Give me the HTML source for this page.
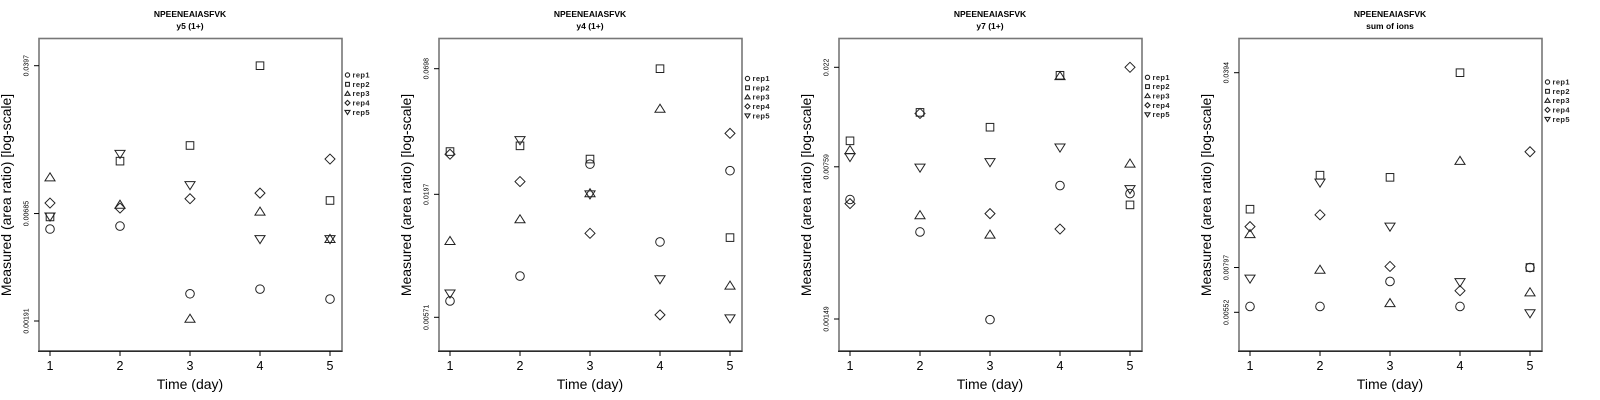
<!DOCTYPE html>
<html><head><meta charset="utf-8"><style>
html,body{margin:0;padding:0;background:#fff;}
svg{display:block;font-family:"Liberation Sans",sans-serif;}
</style></head><body>
<svg id="chart" width="1600" height="400" viewBox="0 0 1600 400" xmlns="http://www.w3.org/2000/svg"></svg>
<script>
const days = [1,2,3,4,5];
const reps = ["rep1","rep2","rep3","rep4","rep5"];
const panelTitles = ["y5 (1+)","y4 (1+)","y7 (1+)","sum of ions"];
const peptide = "NPEENEAIASFVK";
const yTicks1 = [0.0397,0.00685,0.00191];
const yTicks2 = [0.0698,0.0197,0.00571];
const yTicks3 = [0.022,0.00759,0.00149];
const yTicks4 = [0.0394,0.00797,0.00552];
// values[rep][day]
const p1rep1=[0.00570,0.00590,0.00264,0.00279,0.00248];
const p1rep2=[0.00658,0.01277,0.01538,0.0397,0.00800];
const p1rep3=[0.01052,0.00760,0.00196,0.00700,0.00506];
const p1rep4=[0.00776,0.00731,0.00817,0.00873,0.01309];
const p1rep5=[0.00662,0.01393,0.00961,0.00506,0.00506];
const p2rep1=[0.00673,0.00865,0.0267,0.0122,0.0250];
const p2rep2=[0.0303,0.0321,0.0281,0.0698,0.01274];
const p2rep3=[0.01230,0.01531,0.0199,0.0466,0.00785];
const p2rep4=[0.0295,0.0224,0.0133,0.00585,0.0364];
const p2rep5=[0.00726,0.0340,0.0197,0.00838,0.00565];
const p3rep1=[0.00535,0.00378,0.00148,0.00621,0.00570];
const p3rep2=[0.01002,0.01358,0.01159,0.0202,0.00505];
const p3rep3=[0.00906,0.00452,0.00367,0.0200,0.00785];
const p3rep4=[0.00512,0.01343,0.00460,0.00390,0.022];
const p3rep5=[0.00843,0.00753,0.00798,0.00933,0.00598];
const p4rep1=[0.00579,0.00579,0.00711,0.00579,0.00797];
const p4rep2=[0.01286,0.0170,0.0167,0.0394,0.00797];
const p4rep3=[0.01048,0.00782,0.00595,0.0191,0.00650];
const p4rep4=[0.01115,0.01228,0.00804,0.00659,0.0206];
const p4rep5=[0.00728,0.0160,0.01115,0.00707,0.00548];

const panels=[
 {ticks:yTicks1,tickPx:[65.7,321],series:[p1rep1,p1rep2,p1rep3,p1rep4,p1rep5],legTop:75},
 {ticks:yTicks2,tickPx:[68.7,317.3],series:[p2rep1,p2rep2,p2rep3,p2rep4,p2rep5],legTop:78.5},
 {ticks:yTicks3,tickPx:[67.3,319],series:[p3rep1,p3rep2,p3rep3,p3rep4,p3rep5],legTop:77.3},
 {ticks:yTicks4,tickPx:[72.7,312.3],series:[p4rep1,p4rep2,p4rep3,p4rep4,p4rep5],legTop:82}
];
const NS="http://www.w3.org/2000/svg";
const svg=document.getElementById('chart');
function mk(tag,attrs,parent){const e=document.createElementNS(NS,tag);for(const k in attrs)e.setAttribute(k,attrs[k]);parent.appendChild(e);return e;}
function xScale(d){return 50+(d-1)*70;}
function marker(g,type,x,y,s,sw){
 const st={fill:'none',stroke:'#222','stroke-width':sw||1};
 let e;
 if(type===0){e=mk('circle',Object.assign({cx:x,cy:y,r:4.3*s},st),g);}
 else if(type===1){e=mk('rect',Object.assign({x:x-3.8*s,y:y-3.8*s,width:7.6*s,height:7.6*s},st),g);}
 else if(type===2){const h=4.6*s;e=mk('polygon',Object.assign({points:`${x},${y-h} ${x-h*1.1},${y+h*0.75} ${x+h*1.1},${y+h*0.75}`},st),g);}
 else if(type===3){const h=5*s;e=mk('polygon',Object.assign({points:`${x},${y-h} ${x+h},${y} ${x},${y+h} ${x-h},${y}`},st),g);}
 else {const h=4.6*s;e=mk('polygon',Object.assign({points:`${x},${y+h} ${x-h*1.1},${y-h*0.75} ${x+h*1.1},${y-h*0.75}`},st),g);}
 return e;
}
panels.forEach((p,i)=>{
 const g=mk('g',{transform:`translate(${i*400},0)`},svg);
 
 
 const lA=Math.log10(p.ticks[0]),lB=Math.log10(p.ticks[p.ticks.length-1]);
 const yScale=v=>p.tickPx[0]+(lA-Math.log10(v))/(lA-lB)*(p.tickPx[1]-p.tickPx[0]);
 let t=mk('text',{x:190,y:17,'text-anchor':'middle','font-size':8.5,'font-weight':'bold'},g);t.textContent=peptide;
 
 
 t=mk('text',{x:190,y:29,'text-anchor':'middle','font-size':8.5,'font-weight':'bold'},g);t.textContent=panelTitles[i];
 
 
 const box=mk('rect',{x:39,y:38.5,width:303,height:312.5,fill:'none',stroke:'#777','stroke-width':1.6},g);
 
 
 mk('line',{x1:38,y1:351.3,x2:342.5,y2:351.3,stroke:'#000','stroke-width':1},g);
 days.forEach(d=>{
  mk('line',{x1:xScale(d),y1:351.3,x2:xScale(d),y2:356,stroke:'#000','stroke-width':1},g);
  const tl=mk('text',{x:xScale(d),y:370,'text-anchor':'middle','font-size':12.5},g);tl.textContent=d;
  
  
 });
 p.ticks.forEach(v=>{
  const y=yScale(v);
  mk('line',{x1:34,y1:y,x2:39,y2:y,stroke:'#000','stroke-width':1},g);
  const tl=mk('text',{x:0,y:0,'text-anchor':'middle','font-size':7,transform:`translate(28.5,${y}) rotate(-90)`},g);tl.textContent=v;
  
  
 });
 t=mk('text',{x:0,y:0,'text-anchor':'middle','font-size':14,transform:`translate(11,195) rotate(-90)`},g);t.textContent='Measured (area ratio) [log-scale]';
 
 
 t=mk('text',{x:190,y:389,'text-anchor':'middle','font-size':14},g);t.textContent='Time (day)';
 
 
 p.series.forEach((vals,r)=>{
  vals.forEach((v,di)=>{
   const m=marker(g,r,xScale(days[di]),yScale(v),1);
   
   
  });
 });
 reps.forEach((name,r)=>{
  const y=p.legTop+r*9.3;
  const lg=mk('g',{},g);
  
  
  marker(lg,r,347.5,y,0.5,1.1);
  const lt=mk('text',{x:352.5,y:y+2.6,'font-size':7.5,'font-weight':'bold','fill':'#222','letter-spacing':0.4},lg);lt.textContent=name;
 });
});
</script>
</body></html>
